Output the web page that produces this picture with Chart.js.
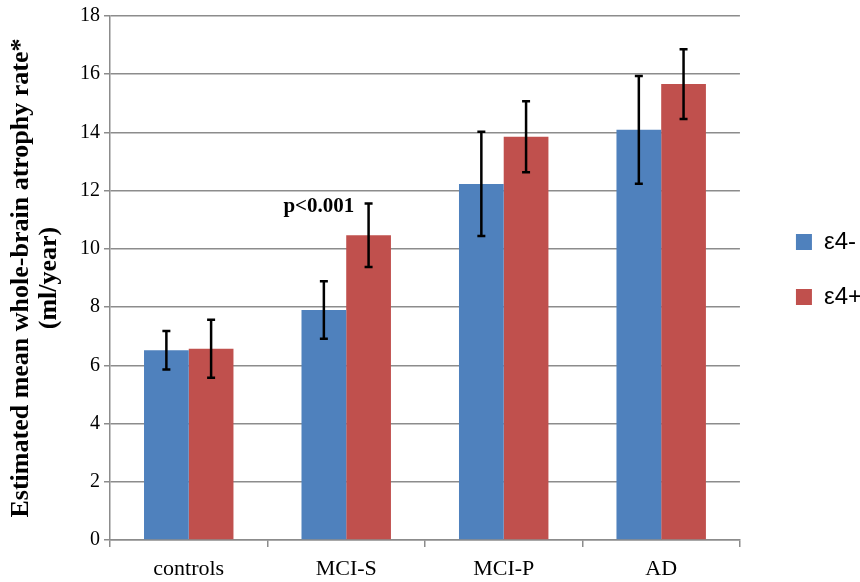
<!DOCTYPE html>
<html>
<head>
<meta charset="utf-8">
<script src="https://cdn.jsdelivr.net/npm/chart.js@4"></script>
<style>
  html, body { margin: 0; padding: 0; background: #fff; }
  #wrap { width: 860px; height: 582px; }
</style>
</head>
<body>
<div id="wrap"><canvas id="chart" width="860" height="582"></canvas></div>
<script>
// Atrophy rate by diagnosis group and APOE e4 status
const categories = ['controls', 'MCI-S', 'MCI-P', 'AD'];
const e4Neg = [6.52, 7.90, 12.23, 14.09];
const e4Pos = [6.57, 10.47, 13.85, 15.66];
const e4NegErr = [0.66, 0.99, 1.79, 1.85];
const e4PosErr = [1.00, 1.09, 1.22, 1.20];
const yTicks = [0, 2, 4, 6, 8, 10, 12, 14, 16, 18];
const annotation = { text: 'p<0.001', category: 1, value: 11.44 };

const serif = '"Liberation Serif", "Times New Roman", serif';

// Draw error bars on top of the bars
const errorBars = {
  id: 'errorBars',
  afterDatasetsDraw(chart) {
    const ctx = chart.ctx;
    const y = chart.scales.y;
    const errs = [e4NegErr, e4PosErr];
    ctx.save();
    ctx.strokeStyle = '#000';
    ctx.lineWidth = 2.5;
    chart.data.datasets.forEach((ds, di) => {
      const meta = chart.getDatasetMeta(di);
      meta.data.forEach((bar, i) => {
        const v = ds.data[i];
        const top = y.getPixelForValue(v + errs[di][i]);
        const bot = y.getPixelForValue(v - errs[di][i]);
        const x = bar.x;
        ctx.beginPath();
        ctx.moveTo(x, top); ctx.lineTo(x, bot);
        ctx.moveTo(x - 4, top); ctx.lineTo(x + 4, top);
        ctx.moveTo(x - 4, bot); ctx.lineTo(x + 4, bot);
        ctx.stroke();
      });
    });
    // significance label
    const bar = chart.getDatasetMeta(0).data[annotation.category];
    ctx.fillStyle = '#000';
    ctx.font = 'bold 21px ' + serif;
    ctx.textAlign = 'center';
    ctx.textBaseline = 'middle';
    ctx.fillText(annotation.text, bar.x - 5, y.getPixelForValue(annotation.value));
    ctx.restore();
  }
};

new Chart(document.getElementById('chart'), {
  type: 'bar',
  data: {
    labels: categories,
    datasets: [
      { label: 'ε4-', data: e4Neg, backgroundColor: '#4F81BD' },
      { label: 'ε4+', data: e4Pos, backgroundColor: '#C0504D' }
    ]
  },
  options: {
    responsive: false,
    animation: false,
    layout: { padding: { top: 11, right: -12, bottom: 0, left: 0 } },
    datasets: { bar: { categoryPercentage: 0.568, barPercentage: 1.0 } },
    plugins: {
      tooltip: { enabled: false },
      legend: {
        position: 'right',
        align: 'start',
        title: { display: true, text: ' ', padding: { top: 0, bottom: 178 }, font: { size: 10, lineHeight: 1 } },
        labels: {
          boxWidth: 16,
          boxHeight: 16,
          padding: 31,
          color: '#000',
          font: { family: '"Liberation Sans", Arial, sans-serif', size: 24 }
        }
      }
    },
    scales: {
      x: {
        afterFit(scale) {
          scale.height = 42;
        },
        grid: {
          offset: true,
          drawOnChartArea: false,
          drawTicks: true,
          tickLength: 7,
          color: '#8c8c8c',
          lineWidth: 1.5
        },
        border: { color: '#8c8c8c', width: 1.5 },
        ticks: { color: '#000', padding: 9, font: { family: serif, size: 22 } }
      },
      y: {
        min: 0,
        max: 18,
        afterBuildTicks(scale) {
          scale.ticks = yTicks.map(v => ({ value: v }));
        },
        afterFit(scale) {
          scale.width = 110;
        },
        grid: { color: '#8c8c8c', lineWidth: 1.5, tickLength: 6 },
        border: { color: '#8c8c8c', width: 1.5 },
        ticks: { color: '#000', padding: 4, font: { family: serif, size: 20 } },
        title: {
          display: true,
          text: ['Estimated mean whole-brain atrophy rate*', '(ml/year)'],
          color: '#000',
          padding: { top: 8, bottom: 0 },
          font: { family: serif, size: 26, weight: 'bold', lineHeight: 1.05 }
        }
      },
      // empty spacer between plot area and legend
      gap: {
        position: 'right',
        display: true,
        afterFit(scale) {
          scale.width = 25;
        },
        grid: { display: false },
        border: { display: false },
        ticks: { display: false }
      }
    }
  },
  plugins: [errorBars]
});
</script>
</body>
</html>
